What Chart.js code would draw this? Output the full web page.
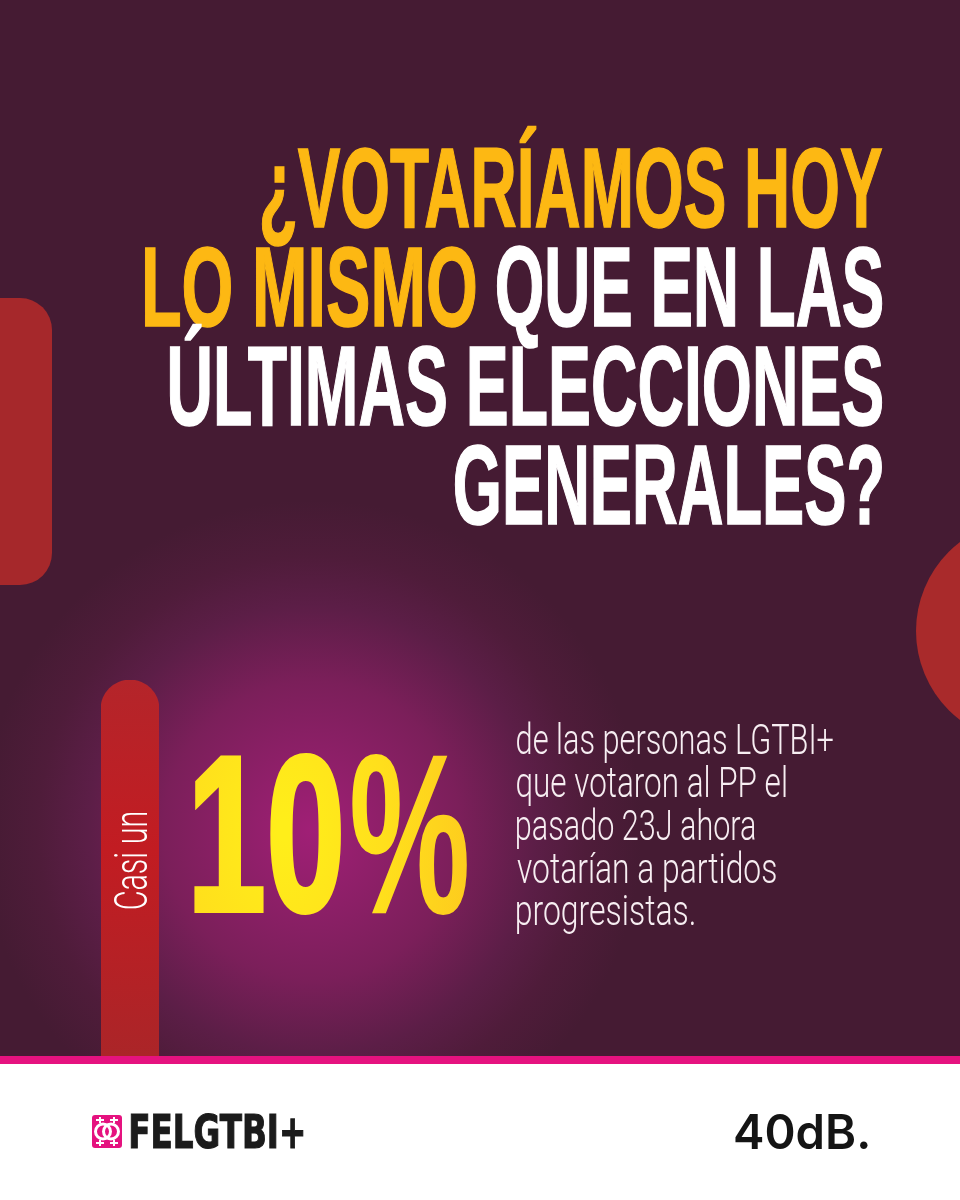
<!DOCTYPE html>
<html lang="es">
<head>
<meta charset="utf-8">
<title>¿Votaríamos hoy lo mismo?</title>
<style>html,body{margin:0;padding:0;background:#fff}canvas{display:block}</style>
<script src="https://cdn.jsdelivr.net/npm/chart.js@4/dist/chart.umd.js"></script>
</head>
<body>
<canvas id="c" width="960" height="1200" style="width:960px;height:1200px"></canvas>
<script>
const categories = ["Casi un"];
const shareValues = [10];
const axisRange = [0, 10];
const titleYellowA = "¿VOTARÍAMOS HOY";
const titleYellowB = "LO MISMO";
const titleWhiteA = "QUE EN LAS";
const titleWhiteB = "ÚLTIMAS ELECCIONES";
const titleWhiteC = "GENERALES?";
const bodyLines = ["de las personas LGTBI+", "que votaron al PP el", "pasado 23J ahora", "votarían a partidos", "progresistas."];
const bodyRight = [833, 786, 755, 776, 694];
const brandLeft = "FELGTBI+";
const brandRight = "40dB.";

const FW = 960, FH = 1200;

function fit(ctx, text, x0, x1, baseline, font, fill, strokeW) {
  ctx.save();
  ctx.font = font;
  ctx.textBaseline = "alphabetic";
  ctx.textAlign = "left";
  const m = ctx.measureText(text);
  const w = m.actualBoundingBoxRight + m.actualBoundingBoxLeft;
  const sx = (x1 - x0) / w;
  const tx = x0 + m.actualBoundingBoxLeft * sx;
  ctx.translate(tx, baseline);
  ctx.scale(sx, 1);
  const paint = typeof fill === "function" ? fill(ctx, tx, sx, baseline) : fill;
  ctx.fillStyle = paint;
  ctx.fillText(text, 0, 0);
  if (strokeW) {
    ctx.strokeStyle = paint;
    ctx.lineWidth = strokeW;
    ctx.lineJoin = "miter";
    ctx.strokeText(text, 0, 0);
  }
  ctx.restore();
}

function rr(ctx, x, y, w, h, r) {
  ctx.beginPath();
  ctx.roundRect(x, y, w, h, r);
  ctx.fill();
}

function valueFill(ctx, tx, sx, baseline) {
  const cx = (285 - tx) / sx, cy = 830 - baseline;
  const g = ctx.createRadialGradient(cx, cy, 10, cx, cy, 200 / sx);
  g.addColorStop(0, "#ffee1a");
  g.addColorStop(0.5, "#ffdf1c");
  g.addColorStop(1, "#fdc91e");
  return g;
}

const scenery = {
  id: "scenery",
  beforeDraw(chart) {
    const ctx = chart.ctx;
    ctx.save();
    ctx.fillStyle = "#ffffff";
    ctx.fillRect(0, 0, FW, FH);
    ctx.fillStyle = "#451b33";
    ctx.fillRect(0, 0, FW, 1056);
    ctx.save();
    ctx.beginPath();
    ctx.rect(0, 0, FW, 1056);
    ctx.clip();
    const g = ctx.createRadialGradient(312, 830, 0, 312, 830, 330);
    g.addColorStop(0, "#a01f76");
    g.addColorStop(0.45, "#7b1f5a");
    g.addColorStop(0.68, "#5c1e47");
    g.addColorStop(0.83, "#4f1c3a");
    g.addColorStop(1, "#451b33");
    ctx.fillStyle = g;
    ctx.beginPath();
    ctx.arc(312, 830, 330, 0, Math.PI * 2);
    ctx.fill();
    ctx.restore();
    ctx.fillStyle = "#a6282b";
    rr(ctx, -40, 298, 92, 287, 32);
    ctx.fillStyle = "#a92a2b";
    ctx.beginPath();
    ctx.arc(1028, 631, 112, 0, Math.PI * 2);
    ctx.fill();
    ctx.fillStyle = "#e5127f";
    ctx.fillRect(0, 1056, FW, 8);
    ctx.restore();
  },
  afterDatasetsDraw(chart) {
    const ctx = chart.ctx;
    const titleFont = 'bold 114px "Liberation Sans Narrow", "Liberation Sans", sans-serif';
    const yellow = "#fdb813";
    fit(ctx, titleYellowA, 262, 882, 226.5, titleFont, yellow, 1.6);
    fit(ctx, titleYellowB, 145, 475, 325.5, titleFont, yellow, 1.6);
    fit(ctx, titleWhiteA, 497, 882, 325.5, titleFont, "#ffffff", 1.6);
    fit(ctx, titleWhiteB, 170, 882, 424.5, titleFont, "#ffffff", 1.6);
    fit(ctx, titleWhiteC, 455, 882, 523.5, titleFont, "#ffffff", 1.6);

    // Big value, taken from the data
    fit(ctx, String(chart.data.datasets[0].data[0]), 195, 340, 911, 'bold 222px "Liberation Sans Narrow", "Liberation Sans", sans-serif', valueFill, 4);
    fit(ctx, "%", 352, 467, 913, 'bold 228px "Liberation Sans Narrow", "Liberation Sans", sans-serif', valueFill);

    // Rotated label inside the bar
    const bar = chart.getDatasetMeta(0).data[0];
    ctx.save();
    ctx.translate(bar.x + 17, 909);
    ctx.rotate(-Math.PI / 2);
    fit(ctx, chart.data.labels[0], 0, 96, 0, '300 46px Roboto, sans-serif', "#ffffff");
    ctx.restore();

    // Body text
    const bases = [754, 797, 840, 883, 925];
    bodyLines.forEach((t, i) => fit(ctx, t, 517, bodyRight[i], bases[i], '300 43px Roboto, sans-serif', "#f7eef2"));

    // Logos
    ctx.save();
    ctx.fillStyle = "#e5127f";
    rr(ctx, 92, 1115, 30, 33, 3);
    ctx.strokeStyle = "#ffffff";
    ctx.lineWidth = 3;
    ctx.beginPath(); ctx.arc(103, 1131.5, 7.5, 0, Math.PI * 2); ctx.stroke();
    ctx.beginPath(); ctx.arc(111, 1131.5, 7.5, 0, Math.PI * 2); ctx.stroke();
    ctx.lineWidth = 2;
    [[100, 1123, 100, 1117], [114, 1123, 114, 1117], [100, 1140, 100, 1146], [114, 1140, 114, 1146],
     [96, 1120, 104, 1120], [110, 1120, 118, 1120], [96, 1143, 104, 1143], [110, 1143, 118, 1143]].forEach(s => {
      ctx.beginPath(); ctx.moveTo(s[0], s[1]); ctx.lineTo(s[2], s[3]); ctx.stroke();
    });
    ctx.restore();
    fit(ctx, brandLeft, 131, 303, 1148, 'bold 46px "DejaVu Sans", sans-serif', "#1b1b1b", 1.2);
    fit(ctx, brandRight, 735, 868, 1149, '600 48px Inter, sans-serif', "#141414");
  }
};

const canvas = document.getElementById("c");
const cctx = canvas.getContext("2d");
const barFill = cctx.createLinearGradient(0, 680, 0, 1056);
barFill.addColorStop(0, "#b4252a");
barFill.addColorStop(0.45, "#c21c22");
barFill.addColorStop(1, "#ab2528");

new Chart(canvas, {
  type: "bar",
  data: {
    labels: categories,
    datasets: [{
      data: shareValues,
      backgroundColor: barFill,
      borderWidth: 0,
      borderSkipped: "bottom",
      borderRadius: { topLeft: 29, topRight: 29, bottomLeft: 0, bottomRight: 0 },
      barPercentage: 1,
      categoryPercentage: 1
    }]
  },
  options: {
    responsive: false,
    animation: false,
    devicePixelRatio: 1,
    layout: { padding: { left: 101, right: 801, top: 680, bottom: 144 } },
    plugins: { legend: { display: false }, tooltip: { enabled: false }, title: { display: false } },
    scales: {
      x: { display: false },
      y: { display: false, min: axisRange[0], max: axisRange[1] }
    }
  },
  plugins: [scenery]
});
</script>
</body>
</html>
